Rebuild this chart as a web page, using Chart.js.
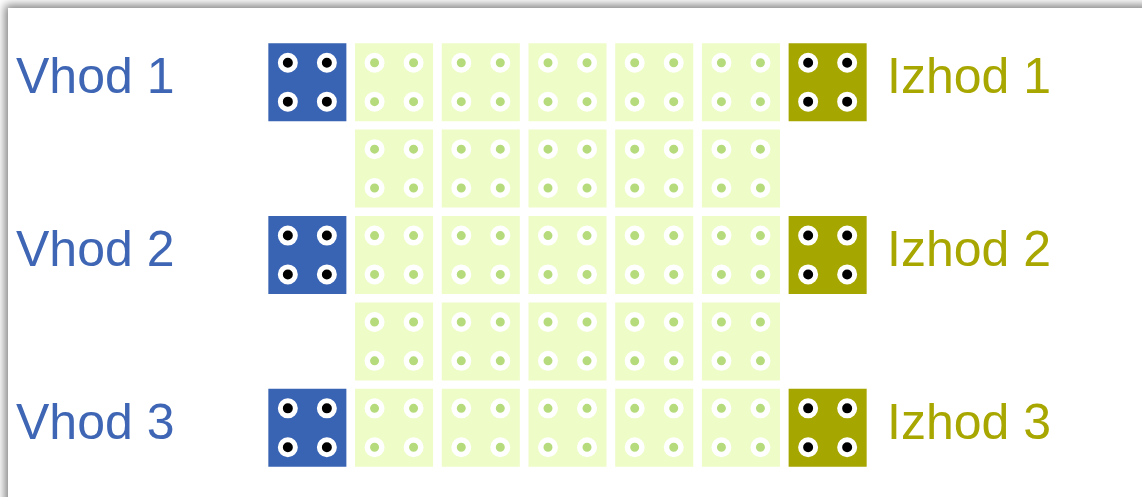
<!DOCTYPE html>
<html lang="en">
<head>
    <meta charset="UTF-8">
    <title>Vhod / Izhod</title>
    <style>
        html, body {
            margin: 0;
            padding: 0;
            background: #ffffff;
            overflow: hidden;
        }
        #frame {
            position: absolute;
            left: 8px;
            top: 8px;
            width: 1200px;
            height: 600px;
            background: #ffffff;
            box-shadow: 0 0 9px 3px rgba(0, 0, 0, 0.5);
        }
        #board {
            position: absolute;
            left: 0;
            top: 0;
        }
    </style>
</head>
<body>
    <div id="frame"></div>
    <canvas id="board" width="1142" height="497"></canvas>

    <script src="https://cdn.jsdelivr.net/npm/chart.js"></script>
    <script>
        // labels on the left and right side (one per row, empty rows in between)
        const inputLabels = ['Vhod 1', '', 'Vhod 2', '', 'Vhod 3'];
        const outputLabels = ['Izhod 1', '', 'Izhod 2', '', 'Izhod 3'];
        const labelRows = [0, 2, 4];

        // column / row index of every block
        const inputCol = 0;
        const outputCol = 6;
        const ioRows = [0, 2, 4];
        const gridCols = [1, 2, 3, 4, 5];
        const gridRows = [0, 1, 2, 3, 4];

        // each block holds a 2x2 set of holes, offset from the block centre
        const holeOffsets = [-0.225, 0.225];

        const blueBlock = '#3963b3';
        const oliveBlock = '#a6a600';
        const lightBlock = '#eefcc8';
        const lightHole = '#b6db7c';

        function blockPoints(cols, rows) {
            const pts = [];
            cols.forEach(c => rows.forEach(r => pts.push({ x: c, y: r })));
            return pts;
        }

        function holePoints(cols, rows) {
            const pts = [];
            blockPoints(cols, rows).forEach(p => {
                holeOffsets.forEach(dy => holeOffsets.forEach(dx => {
                    pts.push({ x: p.x + dx, y: p.y + dy });
                }));
            });
            return pts;
        }

        // block side = 0.9 of one column step, rect point radius = side / sqrt(2)
        function blockRadius(ctx) {
            const s = ctx.chart.scales.x;
            if (!s) return 0;
            return (s.getPixelForValue(0.9) - s.getPixelForValue(0)) / Math.SQRT2;
        }

        const blockStyle = {
            pointStyle: 'rect',
            pointRadius: blockRadius,
            pointHoverRadius: blockRadius,
            pointBorderWidth: 0,
            showLine: false,
            clip: false,
            order: 2
        };

        const labelFont = { family: "'Liberation Sans', Arial, sans-serif", size: 50 };

        function labelAxis(width) {
            return axis => {
                axis.width = width;
                axis.paddingTop = 0;
                axis.paddingBottom = 0;
            };
        }

        const ctx = document.getElementById('board').getContext('2d');
        const chart = new Chart(ctx, {
            type: 'scatter',
            data: {
                datasets: [
                    Object.assign({ data: blockPoints([inputCol], ioRows), backgroundColor: blueBlock }, blockStyle),
                    Object.assign({ data: blockPoints([outputCol], ioRows), backgroundColor: oliveBlock }, blockStyle),
                    Object.assign({ data: blockPoints(gridCols, gridRows), backgroundColor: lightBlock }, blockStyle),
                    {
                        data: holePoints([inputCol, outputCol], ioRows),
                        pointRadius: 7.5,
                        pointHoverRadius: 7.5,
                        pointBorderWidth: 5,
                        backgroundColor: '#000000',
                        borderColor: '#ffffff',
                        clip: false,
                        order: 1
                    },
                    {
                        data: holePoints(gridCols, gridRows),
                        pointRadius: 7.25,
                        pointHoverRadius: 7.25,
                        pointBorderWidth: 5.5,
                        backgroundColor: lightHole,
                        borderColor: '#ffffff',
                        clip: false,
                        order: 1
                    }
                ]
            },
            options: {
                responsive: false,
                animation: false,
                devicePixelRatio: 1,
                layout: {
                    padding: { left: 16, right: 0, top: 39, bottom: 26 }
                },
                plugins: {
                    legend: { display: false },
                    tooltip: { enabled: false }
                },
                events: [],
                scales: {
                    x: {
                        type: 'linear',
                        min: -0.5,
                        max: 6.5,
                        display: false
                    },
                    y: {
                        type: 'linear',
                        min: -0.5,
                        max: 4.5,
                        reverse: true,
                        display: false
                    },
                    yIn: {
                        type: 'linear',
                        position: 'left',
                        min: -0.465,
                        max: 4.535,
                        reverse: true,
                        grid: { display: false, drawTicks: false },
                        border: { display: false },
                        afterBuildTicks: axis => { axis.ticks = labelRows.map(v => ({ value: v })); },
                        afterFit: labelAxis(248),
                        ticks: {
                            crossAlign: 'far',
                            padding: 0,
                            color: '#3f66b4',
                            font: labelFont,
                            callback: value => inputLabels[value]
                        }
                    },
                    yOut: {
                        type: 'linear',
                        position: 'right',
                        min: -0.465,
                        max: 4.535,
                        reverse: true,
                        grid: { display: false, drawTicks: false },
                        border: { display: false },
                        afterBuildTicks: axis => { axis.ticks = labelRows.map(v => ({ value: v })); },
                        afterFit: labelAxis(271),
                        ticks: {
                            crossAlign: 'near',
                            padding: 16,
                            color: '#a8a700',
                            font: labelFont,
                            callback: value => outputLabels[value]
                        }
                    }
                }
            }
        });
    </script>
</body>
</html>
